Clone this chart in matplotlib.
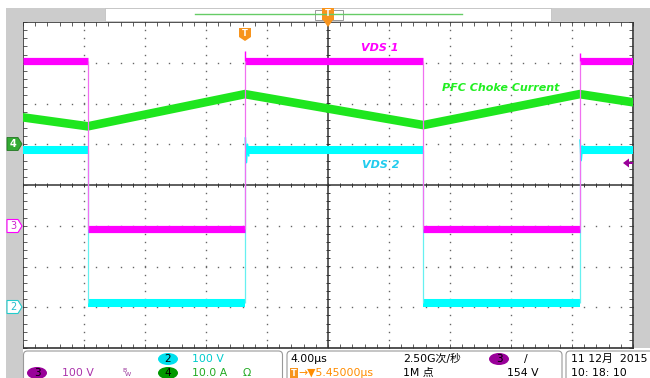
import matplotlib
matplotlib.use('Agg')
import matplotlib.pyplot as plt
import numpy as np
from matplotlib.patches import Rectangle, Polygon, FancyBboxPatch, Ellipse
from matplotlib.ticker import MultipleLocator

plt.rcParams['font.family'] = ['DejaVu Sans', 'Noto Sans CJK SC']

# scope settings: scale per div and ground marker position (div)
t_div = 4.0                      # us/div
ch2_scale, ch2_pos = 100.0, -3.0  # VDS 2 (cyan), V/div
ch3_scale, ch3_pos = 100.0, -1.0  # VDS 1 (magenta), V/div
ch4_scale, ch4_pos = 10.0, 1.0    # PFC choke current, A/div

# switching edges (us) and state of each interval
seg_bounds = [-20.0, -15.75, -5.45, 6.25, 16.5, 20.0]
seg_state = [1, 0, 1, 0, 1]

vds1_high, vds1_low = 405.0, -8.0
vds2_high, vds2_low = 385.0, 11.0

# overshoot / ringing at the turn-on edges
vds1_spike_t = [-5.45, 16.5]
vds1_spike_v = [428.0, 425.0]
vds2_ring_t = [-5.42, -5.35, -5.28, -5.2, 16.53, 16.6, 16.68]
vds2_ring_v = [415.0, 355.0, 400.0, 372.0, 410.0, 360.0, 395.0]

# choke current vertices
il_t = [-20.0, -15.75, -5.45, 6.25, 16.5, 20.0]
il_a = [6.6, 4.4, 12.3, 4.7, 12.3, 10.3]


def to_div(v, scale, pos):
    return np.asarray(v) / scale + pos


magenta = '#ff00ff'
cyan = '#00ffff'
green = '#1ee61e'

fig = plt.figure(figsize=(6.5, 3.78), dpi=100)
ax = fig.add_axes([23 / 650, 30 / 378, 610 / 650, 326 / 378], zorder=2)
ax.set_xlim(-20, 20)
ax.set_ylim(-4, 4)
ax.set_facecolor('white')
for s in ax.spines.values():
    s.set_color('#333333')
    s.set_linewidth(1.2)
ax.xaxis.set_major_locator(MultipleLocator(t_div))
ax.xaxis.set_minor_locator(MultipleLocator(t_div / 5))
ax.yaxis.set_major_locator(MultipleLocator(1))
ax.yaxis.set_minor_locator(MultipleLocator(0.2))
ax.tick_params(which='both', direction='in', length=3, width=0.6, color='#444444',
               top=True, right=True, labelbottom=False, labelleft=False)

# dotted graticule
gx = np.arange(-16, 16.1, 4)
gx = gx[gx != 0]
yd = np.arange(-4, 4.01, 0.2)
ax.plot(np.repeat(gx, len(yd)), np.tile(yd, len(gx)), ls='none', marker='s',
        ms=1.0, mew=0, color='#666666', zorder=1)
gy = np.array([-3, -2, -1, 1, 2, 3])
xd = np.arange(-20, 20.01, 0.8)
ax.plot(np.tile(xd, len(gy)), np.repeat(gy, len(xd)), ls='none', marker='s',
        ms=1.0, mew=0, color='#666666', zorder=1)

# centre crosshair with small ticks
ax.axhline(0, color='#333333', lw=1.1, zorder=1)
ax.axvline(0, color='#333333', lw=1.1, zorder=1)
ax.vlines(xd, -0.06, 0.06, color='#333333', lw=0.7, zorder=1)
ax.hlines(yd, -0.14, 0.14, color='#333333', lw=0.7, zorder=1)

# PFC choke current
ax.plot(il_t, to_div(il_a, ch4_scale, ch4_pos), color=green, lw=6.2,
        solid_joinstyle='miter', zorder=3)

# VDS 2 (cyan)
for i, st in enumerate(seg_state):
    lvl = vds2_high if st else vds2_low
    ax.plot(seg_bounds[i:i + 2], to_div([lvl, lvl], ch2_scale, ch2_pos), color=cyan,
            lw=5.8, solid_capstyle='butt', zorder=4)
ax.vlines(seg_bounds[1:-1], to_div(vds2_low, ch2_scale, ch2_pos),
          to_div(vds2_high, ch2_scale, ch2_pos), color='#66f0f0', lw=0.9, zorder=4)
ax.plot(vds2_ring_t[:4], to_div(vds2_ring_v[:4], ch2_scale, ch2_pos), color=cyan, lw=1.2, zorder=4)
ax.plot(vds2_ring_t[4:], to_div(vds2_ring_v[4:], ch2_scale, ch2_pos), color=cyan, lw=1.2, zorder=4)

# VDS 1 (magenta)
for i, st in enumerate(seg_state):
    lvl = vds1_high if st else vds1_low
    ax.plot(seg_bounds[i:i + 2], to_div([lvl, lvl], ch3_scale, ch3_pos), color=magenta,
            lw=5.2, solid_capstyle='butt', zorder=5)
ax.vlines(seg_bounds[1:-1], to_div(vds1_low, ch3_scale, ch3_pos),
          to_div(vds1_high, ch3_scale, ch3_pos), color='#f070f0', lw=0.9, zorder=5)
ax.vlines(vds1_spike_t, to_div(vds1_high, ch3_scale, ch3_pos),
          to_div(vds1_spike_v, ch3_scale, ch3_pos), color=magenta, lw=1.0, zorder=5)

# trace labels
lab = dict(fontsize=8, fontweight='bold', fontstyle='italic', va='center', zorder=6)
ax.text(2.15, 3.36, 'VDS 1', color=magenta, **lab)
ax.text(7.5, 2.38, 'PFC Choke Current', color='#22ee22', **lab)
ax.text(2.2, 0.49, 'VDS 2', color='#22ccee', **lab)

# ---- scope screen chrome (pixel coordinates) ----
ov = fig.add_axes([0, 0, 1, 1], zorder=5)
ov.set_xlim(0, 650)
ov.set_ylim(378, 0)
ov.axis('off')
ov.patch.set_alpha(0)

gray = '#cccccc'
ov.add_patch(Rectangle((6, 8), 16.5, 370, color=gray, lw=0))
ov.add_patch(Rectangle((6, 8), 644, 13.5, color=gray, lw=0))
ov.add_patch(Rectangle((634, 8), 16, 340, color=gray, lw=0))
ov.add_patch(Rectangle((105, 8), 446, 13, fc='white', ec='#bbbbbb', lw=0.5))
ov.plot([195, 462], [14, 14], color='#66cc66', lw=1)
ov.add_patch(Rectangle((315, 9.5), 28, 10, fc='none', ec='#999999', lw=0.7))

orange = '#f7941d'
ov.add_patch(Rectangle((322, 8), 12, 12, fc=orange, lw=0))
ov.add_patch(Polygon([(323, 20), (333, 20), (328, 27)], fc=orange, lw=0))
ov.text(328, 14, 'T', color='white', fontsize=6, fontweight='bold', ha='center', va='center')
ov.add_patch(Polygon([(239, 28), (251, 28), (251, 37), (245, 41), (239, 37)], fc=orange, lw=0))
ov.text(245, 33.5, 'T', color='white', fontsize=6, fontweight='bold', ha='center', va='center')

# channel ground markers
ov.add_patch(Polygon([(7, 137.5), (18, 137.5), (22, 144), (18, 150.5), (7, 150.5)],
                     fc='#33aa33', ec='#227722', lw=0.6))
ov.text(13, 144, '4', color='white', fontsize=7, fontweight='bold', ha='center', va='center')
ov.add_patch(Polygon([(7, 219.5), (18, 219.5), (22, 226), (18, 232.5), (7, 232.5)],
                     fc='white', ec=magenta, lw=0.8))
ov.text(13, 226, '3', color='#cc22cc', fontsize=7, ha='center', va='center')
ov.add_patch(Polygon([(7, 300.5), (18, 300.5), (22, 307), (18, 313.5), (7, 313.5)],
                     fc='white', ec='#22cccc', lw=0.8))
ov.text(13, 307, '2', color='#22bbcc', fontsize=7, ha='center', va='center')

# trigger level arrow
ov.add_patch(Polygon([(623, 163), (629, 158.5), (629, 167.5)], fc='#990099', lw=0))
ov.add_patch(Rectangle((629, 161.8), 4, 2.4, fc='#990099', lw=0))

# status bar
for x0, w in [(23.5, 259), (287, 275), (566, 90)]:
    ov.add_patch(FancyBboxPatch((x0, 351), w, 35, boxstyle='round,pad=0,rounding_size=4',
                                fc='white', ec='#999999', lw=0.8))

st = dict(fontsize=7.8, va='center', ha='left')
ov.add_patch(Ellipse((168, 359), 20, 12, fc='#00e0ee', lw=0))
ov.text(168, 359, '2', color='black', fontsize=7.5, ha='center', va='center')
ov.text(192, 359, '100 V', color='#00cccc', **st)
ov.add_patch(Ellipse((37, 373), 20, 12, fc='#990099', lw=0))
ov.text(37, 373, '3', color='black', fontsize=7.5, ha='center', va='center')
ov.text(62, 373, '100 V', color='#aa33aa', **st)
ov.text(122, 371, 'B', color='#993399', fontsize=4.5, ha='left', va='center')
ov.text(125, 375, 'W', color='#993399', fontsize=4.5, ha='left', va='center')
ov.add_patch(Ellipse((168, 373), 20, 12, fc='#009900', lw=0))
ov.text(168, 373, '4', color='black', fontsize=7.5, ha='center', va='center')
ov.text(192, 373, '10.0 A', color='#22aa22', **st)
ov.text(243, 373, 'Ω', color='#22aa22', **st)

ov.text(290, 359, '4.00µs', color='black', **st)
ov.add_patch(Rectangle((290, 367.5), 8, 11, fc=orange, lw=0))
ov.text(294, 373, 'T', color='white', fontsize=6, fontweight='bold', ha='center', va='center')
ov.text(298, 373, '→▼5.45000µs', color='#ff8c00', **st)
ov.text(403, 359, '2.50G次/秒', color='black', **st)
ov.text(403, 373, '1M 点', color='black', **st)
ov.add_patch(Ellipse((499, 359), 20, 12, fc='#990099', lw=0))
ov.text(499, 359, '3', color='black', fontsize=7.5, ha='center', va='center')
ov.text(524, 359, '/', color='black', **st)
ov.text(507, 373, '154 V', color='black', **st)
ov.text(571, 359, '11 12月  2015', color='black', **st)
ov.text(571, 373, '10: 18: 10', color='black', **st)

fig.savefig('out.png', dpi=100, facecolor='white')
